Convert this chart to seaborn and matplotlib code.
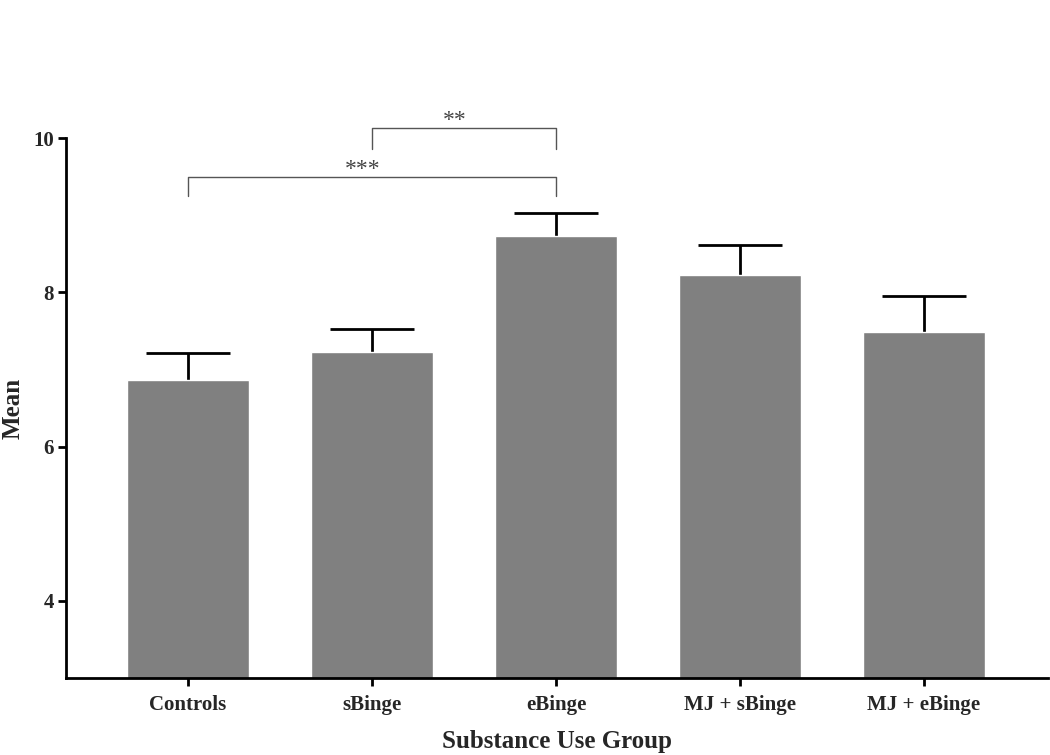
import matplotlib
matplotlib.use("Agg")
import matplotlib.pyplot as plt
import pandas as pd
import seaborn as sns

# values
groups = ["Controls", "sBinge", "eBinge", "MJ + sBinge", "MJ + eBinge"]
means = [6.86, 7.23, 8.73, 8.22, 7.49]
sems = [0.36, 0.30, 0.30, 0.40, 0.46]

# significance brackets: (left group, right group, bar height, drop, label)
brackets = [
    (0, 2, 9.49, 0.24, "***"),
    (1, 2, 10.13, 0.27, "**"),
]

sns.set_theme(style="ticks")
plt.rcParams["font.family"] = ["Liberation Serif", "DejaVu Serif"]

df = pd.DataFrame({"group": groups, "mean": means, "sem": sems})

fig = plt.figure(figsize=(10.5, 7.55), dpi=100)
ax = fig.add_axes([0.063, 0.102, 0.935, 0.715])

sns.barplot(data=df, x="group", y="mean", color="#808080", saturation=1,
            width=0.66, errorbar=None, ax=ax, zorder=2)
eb = ax.errorbar(range(len(groups)), df["mean"], yerr=[[0] * len(groups), df["sem"]],
                 fmt="none", ecolor="black", elinewidth=2, capsize=30, capthick=2,
                 zorder=1)
# only the upper cap is drawn in the original
eb[1][0].set_visible(False)

for x0, x1, y, drop, label in brackets:
    ax.plot([x0, x0, x1, x1], [y - drop, y, y, y - drop], color="#555555",
            lw=1, clip_on=False)
    ax.text((x0 + x1) / 2 - 0.05, y + 0.1, label, ha="center", va="center",
            fontsize=17, color="#444444", clip_on=False)

ax.set_ylim(3, 10)
ax.set_xlim(-0.663, 4.674)
ax.set_yticks([4, 6, 8, 10])
ax.set_xlabel("Substance Use Group", fontsize=18, fontweight="bold", labelpad=11)
ax.set_ylabel("Mean", fontsize=18, fontweight="bold", labelpad=6)
ax.tick_params(axis="both", width=2, length=6, color="black", labelsize=15)
for lab in ax.get_xticklabels() + ax.get_yticklabels():
    lab.set_fontweight("bold")
ax.tick_params(axis="x", pad=6)
ax.tick_params(axis="y", pad=3)
sns.despine(ax=ax)
for s in ["left", "bottom"]:
    ax.spines[s].set_linewidth(2)
    ax.spines[s].set_color("black")

fig.savefig("out.png", dpi=100)
plt.close(fig)
